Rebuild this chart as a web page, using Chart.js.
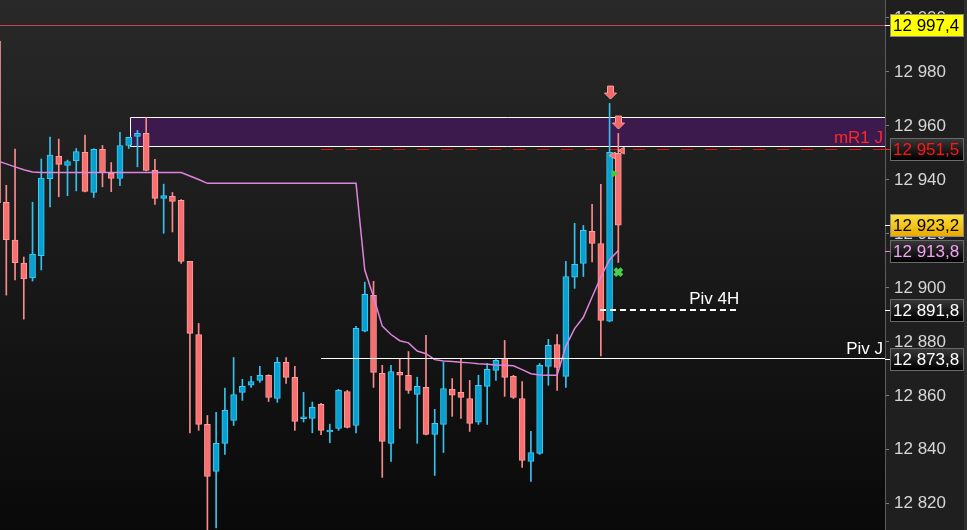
<!DOCTYPE html>
<html>
<head>
<meta charset="utf-8">
<script src="https://cdn.jsdelivr.net/npm/chart.js@4.4.0/dist/chart.umd.min.js"></script>
<style>
html, body { margin:0; padding:0; background:#1f1f1f; }
#chart { display:block; }
</style>
</head>
<body>
<canvas id="chart" width="967" height="530"></canvas>
<script>
// candles
let opens  = [12991.4,12931.7,12917.7,12909.2,12903.7,12911.9,12940.4,12948.7,12945.3,12947.0,
              12950.2,12935.3,12951.3,12942.4,12940.5,12952.7,12956.1,12957.2,12943.5,12933.1,
              12933.9,12932.4,12909.8,12882.7,12849.4,12832.0,12842.4,12850.9,12861.3,12863.9,
              12865.7,12867.6,12859.0,12872.4,12866.8,12851.5,12851.6,12856.8,12846.6,12847.9,
              12861.6,12849.0,12883.9,12897.2,12868.3,12842.4,12868.7,12867.6,12860.5,12863.1,
              12845.7,12849.4,12862.4,12861.3,12859.0,12850.2,12863.5,12869.4,12873.9,12867.2,
              12859.0,12835.7,12838.7,12870.9,12879.0,12867.2,12903.9,12909.0,12920.9,12916.4,
              12887.6,12949.8];
let highs  = [12991.8,12938.0,12951.4,12911.4,12931.7,12947.7,12955.8,12955.1,12947.3,12951.6,
              12956.6,12951.5,12952.7,12946.4,12957.6,12955.7,12958.3,12963.0,12947.6,12938.4,
              12935.3,12932.7,12909.8,12886.8,12852.7,12853.9,12862.9,12874.2,12866.1,12867.2,
              12870.9,12867.8,12874.2,12874.2,12870.9,12861.3,12857.7,12857.2,12849.5,12862.4,
              12862.0,12885.7,12902.1,12902.4,12871.3,12871.3,12873.5,12876.4,12866.9,12882.4,
              12855.0,12872.4,12866.4,12873.5,12865.7,12867.6,12872.0,12873.9,12880.5,12867.6,
              12865.3,12846.8,12872.0,12880.9,12882.7,12909.8,12923.9,12923.1,12930.9,12938.3,
              12968.3,12957.2];
let lows   = [12931.0,12897.3,12902.9,12888.4,12902.5,12906.6,12930.0,12933.7,12934.1,12935.9,
              12935.5,12933.5,12937.4,12935.6,12937.8,12951.6,12944.8,12943.3,12930.9,12920.2,
              12920.7,12909.0,12846.3,12847.2,12809.5,12811.1,12838.3,12849.0,12858.3,12863.1,
              12865.0,12857.9,12857.6,12864.6,12847.2,12850.3,12846.3,12845.6,12842.6,12847.2,
              12848.1,12846.3,12883.7,12863.1,12829.8,12835.7,12847.9,12860.9,12842.4,12845.5,
              12830.5,12839.0,12852.4,12851.6,12846.8,12849.4,12849.4,12865.7,12859.8,12859.0,
              12833.5,12828.3,12838.3,12863.9,12862.0,12863.1,12899.8,12904.2,12909.6,12874.8,
              12887.4,12909.4];
let closes = [12931.5,12917.8,12909.3,12903.3,12912.5,12940.6,12949.2,12945.7,12946.8,12950.5,
              12935.7,12951.3,12942.7,12940.5,12952.7,12955.7,12957.2,12943.5,12933.1,12934.2,
              12932.0,12909.8,12883.1,12849.4,12830.1,12842.4,12854.6,12860.5,12863.5,12865.3,
              12867.6,12859.4,12872.4,12866.8,12850.5,12852.1,12855.7,12847.2,12847.0,12862.0,
              12848.3,12885.0,12897.6,12868.7,12843.1,12869.0,12867.6,12862.0,12863.5,12845.7,
              12849.8,12862.7,12860.2,12859.4,12849.8,12863.9,12869.8,12873.1,12866.8,12859.4,
              12836.1,12839.0,12871.3,12878.7,12870.5,12904.2,12908.7,12921.3,12916.4,12887.9,
              12950.2,12923.2];
// violet average line
let avgLine = [12947.0,12945.9,12944.8,12943.7,12942.9,12942.7,12942.7,12942.7,12942.7,12942.7,
               12942.7,12942.7,12942.7,12942.7,12942.7,12942.7,12942.7,12942.7,12942.7,12942.7,
               12942.7,12942.7,12941.4,12940.1,12938.7,12938.7,12938.7,12938.7,12938.7,12938.7,
               12938.7,12938.7,12938.7,12938.7,12938.7,12938.7,12938.7,12938.7,12938.7,12938.7,
               12938.7,12938.7,12906.6,12896.7,12885.8,12882.7,12880.4,12879.6,12876.6,12875.6,
               12873.4,12872.9,12872.7,12872.4,12872.2,12871.9,12871.7,12871.4,12871.3,12871.1,
               12869.7,12868.2,12867.7,12867.6,12867.6,12878.4,12884.9,12889.1,12896.6,12904.0,
               12910.4,12913.8];

let yTicks = [12820, 12840, 12860, 12880, 12900, 12920, 12940, 12960, 12980, 13000];

// levels
let dayHigh = 12997.4;
let zoneTop = 12963.1;
let zoneBottom = 12952.7;
let zoneStart = 15.1;
let mR1 = 12951.5;
let pivJ = 12873.8;
let pivJStart = 37;
let piv4H = 12891.8;
let piv4HStart = 68.9;
let piv4HEnd = 84.6;

// right axis price tags
let tagValues = [12997.4, 12951.5, 12923.2, 12913.8, 12891.8, 12873.8];

// signals
let arrowX = [70, 71];
let arrowTip = [12969.9, 12958.8];
let markX = [71.45, 70.42, 70.5, 71];
let markY = [12950.8, 12949.0, 12942.3, 12905.8];

function fmtPrice(v, dec) {
    let s = dec ? v.toFixed(1) : String(Math.round(v));
    let parts = s.split('.');
    parts[0] = parts[0].replace(/\B(?=(\d{3})+(?!\d))/g, ' ');
    return parts.join(',');
}

let wicks = [], bodies = [], avgPts = [], wickCol = [], bodyCol = [], bodyBorder = [];
for (let i = 0; i < opens.length; i++) {
    let up = closes[i] >= opens[i];
    wicks.push({x: i, y: [lows[i], highs[i]]});
    bodies.push({x: i, y: [Math.min(opens[i], closes[i]), Math.max(opens[i], closes[i])]});
    avgPts.push({x: i, y: avgLine[i]});
    wickCol.push(up ? '#36c2ef' : '#f98b8b');
    bodyCol.push(up ? '#08a0d1' : '#f76f6f');
    bodyBorder.push(up ? '#3fcbf5' : '#ff9c9c');
}
let marks = [];
for (let i = 0; i < markX.length; i++) marks.push({x: markX[i], y: markY[i]});

const FONT = '17px "Liberation Sans", Arial, sans-serif';

const overlay = {
    id: 'overlay',
    beforeDraw(chart) {
        const {ctx, chartArea: a, width, height} = chart;
        ctx.save();
        let g = ctx.createLinearGradient(0, a.top, 0, a.bottom);
        g.addColorStop(0, '#292929');
        g.addColorStop(1, '#090909');
        ctx.fillStyle = g;
        ctx.fillRect(a.left, a.top, a.right - a.left, a.bottom - a.top);
        ctx.fillStyle = '#1f1f1f';
        ctx.fillRect(a.right, 0, width - a.right, height);
        ctx.fillStyle = '#2f2f2f';
        ctx.fillRect(width - 3, 0, 3, height);
        ctx.restore();
    },
    beforeDatasetsDraw(chart) {
        const {ctx, chartArea: a, scales: {x, y}} = chart;
        ctx.save();
        // resistance zone
        let zx = Math.round(x.getPixelForValue(zoneStart)) + 0.5;
        let zt = Math.round(y.getPixelForValue(zoneTop)) + 0.5;
        let zb = Math.round(y.getPixelForValue(zoneBottom)) + 0.5;
        ctx.fillStyle = '#3d1a4e';
        ctx.fillRect(zx, zt, a.right - zx, zb - zt);
        ctx.strokeStyle = '#ffffff';
        ctx.lineWidth = 1;
        ctx.beginPath();
        ctx.moveTo(a.right, zt); ctx.lineTo(zx, zt); ctx.lineTo(zx, zb); ctx.lineTo(a.right, zb);
        ctx.stroke();
        // day high
        let dy = Math.round(y.getPixelForValue(dayHigh)) + 0.5;
        ctx.strokeStyle = '#c8405a';
        ctx.beginPath(); ctx.moveTo(a.left, dy); ctx.lineTo(a.right, dy); ctx.stroke();
        // mR1 dashed
        let my = Math.round(y.getPixelForValue(mR1)) + 0.5;
        ctx.strokeStyle = '#f00a0a';
        ctx.setLineDash([12, 12]);
        ctx.beginPath(); ctx.moveTo(x.getPixelForValue(pivJStart), my); ctx.lineTo(a.right, my); ctx.stroke();
        ctx.setLineDash([]);
        ctx.restore();
    },
    afterDatasetsDraw(chart) {
        const {ctx, chartArea: a, scales: {x, y}} = chart;
        ctx.save();
        // Piv J
        let py = Math.round(y.getPixelForValue(pivJ)) - 0.5;
        ctx.strokeStyle = '#ffffff';
        ctx.lineWidth = 1;
        ctx.beginPath(); ctx.moveTo(x.getPixelForValue(pivJStart), py); ctx.lineTo(a.right, py); ctx.stroke();
        // Piv 4H
        let p4 = Math.round(y.getPixelForValue(piv4H));
        let p4end = x.getPixelForValue(piv4HEnd);
        ctx.lineWidth = 2;
        ctx.setLineDash([6, 4]);
        ctx.beginPath(); ctx.moveTo(x.getPixelForValue(piv4HStart), p4); ctx.lineTo(p4end, p4); ctx.stroke();
        ctx.setLineDash([]);
        // labels
        ctx.font = FONT;
        ctx.textBaseline = 'bottom';
        ctx.textAlign = 'right';
        ctx.fillStyle = '#ff2626';
        ctx.fillText('mR1 J', a.right - 2, y.getPixelForValue(mR1) - 2);
        ctx.fillStyle = '#ffffff';
        ctx.fillText('Piv J', a.right - 2, py - 1);
        ctx.fillText('Piv 4H', p4end + 2, p4 - 2);
        // down arrows
        for (let i = 0; i < arrowX.length; i++) {
            let ax = Math.round(x.getPixelForValue(arrowX[i])) + 0.5;
            let ay = y.getPixelForValue(arrowTip[i]);
            ctx.beginPath();
            ctx.moveTo(ax - 3, ay - 13);
            ctx.lineTo(ax + 3, ay - 13);
            ctx.lineTo(ax + 3, ay - 6);
            ctx.lineTo(ax + 6, ay - 6);
            ctx.lineTo(ax, ay);
            ctx.lineTo(ax - 6, ay - 6);
            ctx.lineTo(ax - 3, ay - 6);
            ctx.closePath();
            ctx.fillStyle = '#f26767';
            ctx.fill();
            ctx.strokeStyle = '#ff9e9e';
            ctx.lineWidth = 1;
            ctx.stroke();
        }
        ctx.restore();
    },
    afterDraw(chart) {
        const {ctx, chartArea: a, scales: {y}} = chart;
        const looks = [
            {bg: ['#ffff00', '#ffff00'], fg: '#000000', edge: '#8a8a8a', tick: '#ffffff'},
            {bg: ['#3a3a3a', '#000000'], fg: '#ff1616', edge: '#6a6a6a', tick: '#ff2020'},
            {bg: ['#ffe23a', '#e9a900'], fg: '#000000', edge: '#8a8a8a', tick: '#ffffff'},
            {bg: ['#3a3a3a', '#000000'], fg: '#f4a2f4', edge: '#6a6a6a', tick: '#f080f0'},
            {bg: ['#3a3a3a', '#000000'], fg: '#ffffff', edge: '#6a6a6a', tick: '#ffffff'},
            {bg: ['#3a3a3a', '#000000'], fg: '#ffffff', edge: '#6a6a6a', tick: '#ffffff'}
        ];
        ctx.save();
        ctx.font = FONT;
        ctx.textAlign = 'left';
        ctx.textBaseline = 'middle';
        for (let i = 0; i < tagValues.length; i++) {
            let ty = Math.round(y.getPixelForValue(tagValues[i]));
            let lk = looks[i];
            let top = ty - 11, h = 22, left = 890.5, w = 73;
            let g = ctx.createLinearGradient(0, top, 0, top + h);
            g.addColorStop(0, lk.bg[0]);
            g.addColorStop(1, lk.bg[1]);
            ctx.fillStyle = g;
            ctx.fillRect(left, top + 0.5, w, h);
            ctx.strokeStyle = lk.edge;
            ctx.lineWidth = 1;
            ctx.strokeRect(left, top + 0.5, w, h);
            ctx.strokeStyle = lk.tick;
            ctx.beginPath(); ctx.moveTo(a.right, ty + 0.5); ctx.lineTo(a.right + 5, ty + 0.5); ctx.stroke();
            ctx.fillStyle = lk.fg;
            ctx.fillText(fmtPrice(tagValues[i], true), 893, ty + 1);
        }
        ctx.restore();
    }
};

let chart = new Chart(document.getElementById('chart'), {
    type: 'bar',
    data: {
        datasets: [
            {
                type: 'line',
                data: avgPts,
                borderColor: '#dd84dd',
                borderWidth: 1.5,
                pointRadius: 0,
                tension: 0,
                order: 0
            },
            {
                type: 'line',
                data: marks,
                showLine: false,
                pointStyle: ['triangle', 'triangle', 'triangle', 'crossRot'],
                rotation: [-90, -90, 90, 0],
                pointRadius: [4, 4, 4, 5],
                pointBackgroundColor: ['#f26767', '#f26767', '#46c846', '#4ccd4c'],
                pointBorderColor: ['#ff9e9e', '#ff9e9e', '#46c846', '#4ccd4c'],
                pointBorderWidth: [1, 1, 1, 4],
                order: -1
            },
            {
                data: bodies,
                backgroundColor: bodyCol,
                borderColor: bodyBorder,
                borderWidth: 1,
                borderSkipped: false,
                barThickness: 6,
                minBarLength: 2,
                grouped: false,
                order: 1
            },
            {
                data: wicks,
                backgroundColor: wickCol,
                borderWidth: 0,
                barThickness: 1,
                grouped: false,
                order: 2
            }
        ]
    },
    options: {
        responsive: false,
        animation: false,
        devicePixelRatio: 1,
        events: [],
        layout: { padding: 0, autoPadding: false },
        plugins: {
            legend: { display: false },
            tooltip: { enabled: false }
        },
        scales: {
            x: {
                type: 'linear',
                display: false,
                offset: false,
                bounds: 'data',
                min: 0.279,
                max: 101.5,
                afterDataLimits: function(scale) {
                    scale.min = 0.279;
                    scale.max = 101.5;
                }
            },
            y: {
                type: 'linear',
                position: 'right',
                min: 12810.3,
                max: 13006.6,
                afterBuildTicks: function(scale) {
                    scale.ticks = yTicks.map(v => ({value: v}));
                },
                afterFit: function(scale) {
                    scale.width = 82;
                    scale.paddingTop = 0;
                    scale.paddingBottom = 0;
                },
                grid: { drawOnChartArea: false, drawTicks: true, tickLength: 4, color: '#7a7a7a' },
                border: { display: true, color: '#5c5c5c' },
                ticks: {
                    color: '#d6d6d6',
                    padding: 5,
                    font: { family: '"Liberation Sans", Arial, sans-serif', size: 17 },
                    callback: function(v) { return fmtPrice(v, false); }
                }
            }
        }
    },
    plugins: [overlay]
});
</script>
</body>
</html>
